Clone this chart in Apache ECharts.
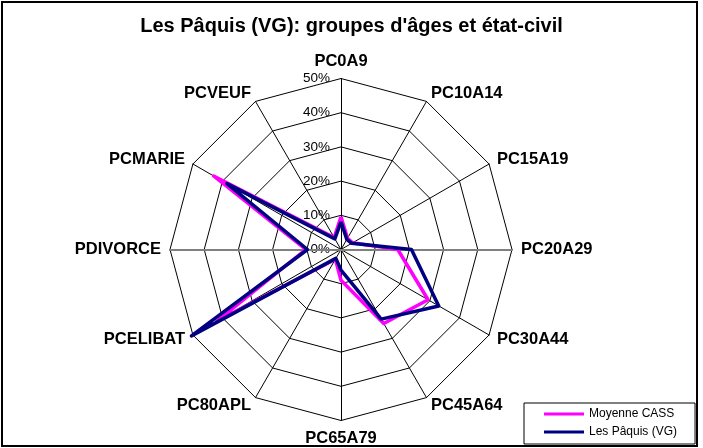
<!DOCTYPE html>
<html>
<head>
<meta charset="utf-8">
<script src="https://cdn.jsdelivr.net/npm/echarts@6/dist/echarts.min.js"></script>
<style>
html,body{margin:0;padding:0;background:#fff;}
#chart{width:703px;height:448px;}
</style>
</head>
<body>
<div id="chart"></div>
<script>
// axes, clockwise from the top
var categories = ['PC0A9','PC10A14','PC15A19','PC20A29','PC30A44','PC45A64','PC65A79','PC80APL','PCELIBAT','PDIVORCE','PCMARIE','PCVEUF'];
var cass = [9.6, 3.8, 3.9, 16.6, 29.4, 25, 9, 3.3, 42, 10.3, 43, 4];
var paquis = [8.1, 3.4, 3.6, 20.6, 33, 23.5, 6, 3, 50.5, 9.8, 38.5, 3.6];
var pctTicks = [0, 10, 20, 30, 40, 50];

// echarts lays radar axes counter-clockwise, so flip everything after the first one
function cw(arr){
    return [arr[0]].concat(arr.slice(1).reverse());
}

var indicator = [];
var cats = cw(categories);
for(var i=0;i<cats.length;i++){
    indicator.push({name:cats[i], min:0, max:50});
}

var fnt = 'Arial, Liberation Sans';
var mychart = echarts.init(document.getElementById('chart'));
var option = {
    animation:false,
    title:{
        text:"Les Pâquis (VG): groupes d'âges et état-civil",
        left:'center',
        top:11,
        textStyle:{fontFamily:fnt,fontWeight:'bold',fontSize:20,color:'#000'}
    },
    legend:{
        orient:'vertical',
        left:524,
        top:403,
        data:['Moyenne CASS','Les Pâquis (VG)'],
        icon:'rect',
        itemWidth:40,
        itemHeight:3,
        itemGap:6,
        padding:[5,18,6,20],
        borderColor:'#000',
        borderWidth:1,
        textStyle:{fontFamily:fnt,fontSize:12,color:'#000'}
    },
    graphic:[{
        type:'rect',
        shape:{x:2,y:2,width:695,height:444},
        style:{fill:'none',stroke:'#000',lineWidth:2},
        silent:true
    }],
    grid:{left:341,top:78.5,height:171,width:10},
    xAxis:{type:'value',show:false},
    yAxis:{
        type:'value',
        min:pctTicks[0],
        max:pctTicks[pctTicks.length-1],
        interval:pctTicks[1]-pctTicks[0],
        axisLine:{show:false},
        axisTick:{show:false},
        splitLine:{show:false},
        axisLabel:{margin:11,fontFamily:fnt,fontSize:13.5,color:'#000',formatter:'{value}%'}
    },
    radar:[{
        center:[341,249.5],
        radius:171,
        shape:'polygon',
        splitNumber:5,
        indicator:indicator,
        axisName:{fontFamily:fnt,fontWeight:'bold',fontSize:16.5,color:'#000'},
        nameGap:9,
        axisLine:{lineStyle:{color:'#000',width:1}},
        splitLine:{lineStyle:{color:'#000',width:1}},
        splitArea:{show:false}
    },{
        // grey horizontal axis (PC20A29 / PDIVORCE)
        center:[341,249.5],
        radius:171,
        startAngle:0,
        z:2,
        indicator:[{name:'PC20A29',max:50},{name:'PDIVORCE',max:50}],
        axisName:{show:false},
        axisLine:{lineStyle:{color:'#808080',width:2}},
        splitLine:{show:false},
        splitArea:{show:false}
    }],
    series:[{
        type:'radar',
        radarIndex:0,
        symbol:'none',
        z:5,
        data:[
            {name:'Moyenne CASS',value:cw(cass),lineStyle:{color:'#FF00FF',width:3.5},itemStyle:{color:'#FF00FF'}},
            {name:'Les Pâquis (VG)',value:cw(paquis),lineStyle:{color:'#000080',width:3.5},itemStyle:{color:'#000080'}}
        ]
    }]
};
mychart.setOption(option);
</script>
</body>
</html>
